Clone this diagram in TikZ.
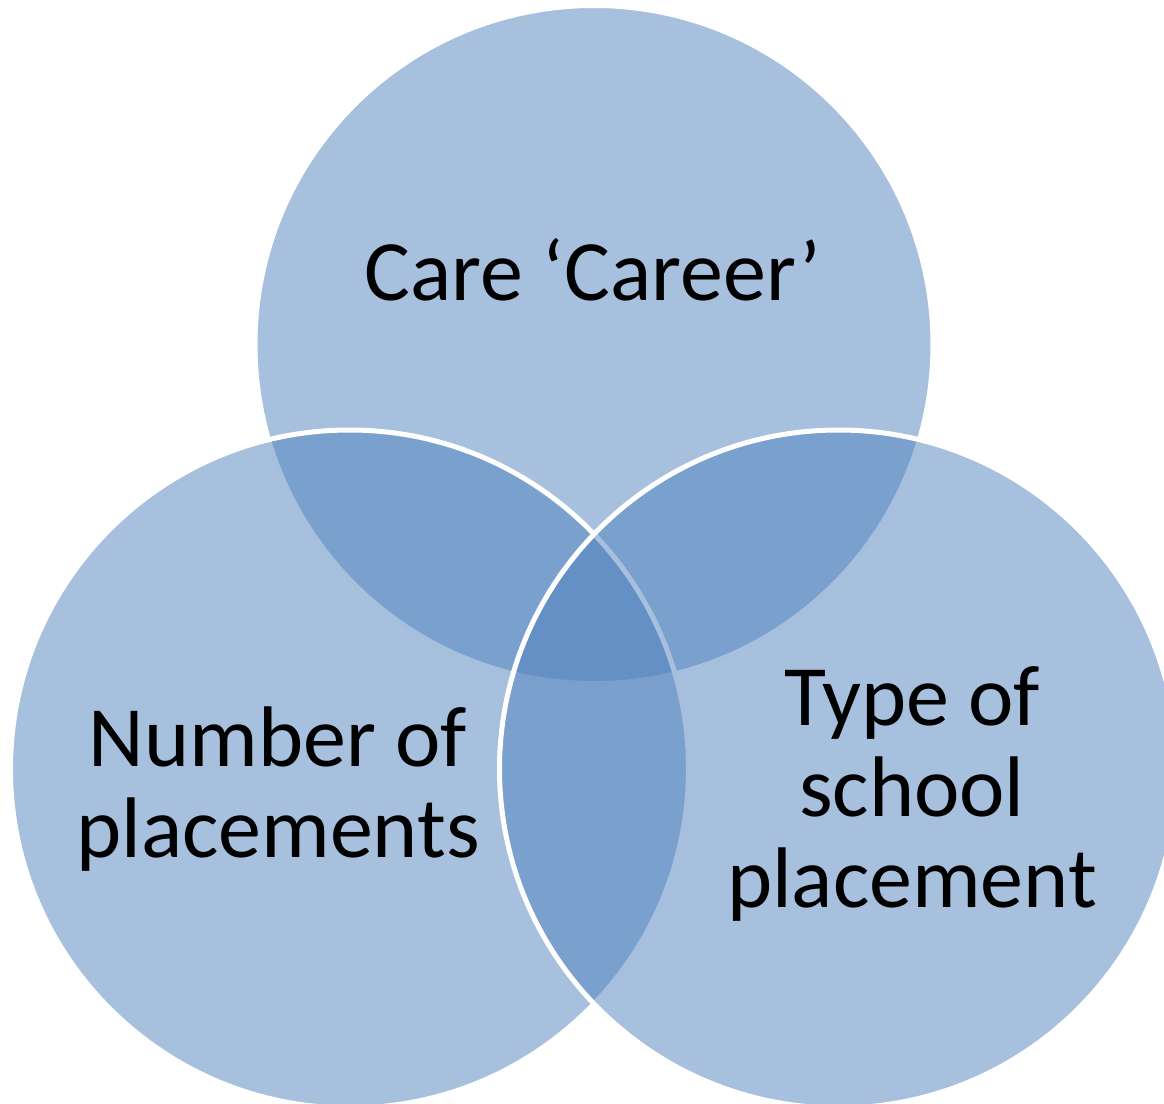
\documentclass[tikz,border=0pt]{standalone}
\usepackage{fontspec}
\setmainfont{Carlito}
\definecolor{vennblue}{HTML}{4F81BD}

\begin{document}
\begin{tikzpicture}[x=0.5pt, y=-0.5pt,
    venn/.style={fill=vennblue, fill opacity=0.5, draw=white, line width=2.5pt},
    venntext/.style={font=\fontsize{43}{45.5}\selectfont, align=center, anchor=base}]
    \useasboundingbox (0,0) rectangle (1164,1104);
    \clip (0,0) rectangle (1164,1104);

    \draw[venn] (594,344.5) circle (169.5pt);
    \draw[venn] (349.5,769) circle (169.5pt);
    \draw[venn] (838.5,769) circle (169.5pt);

    % base anchor sits on the last line
    \node[venntext] (care) at (593,300) {Care ‘Career’};
    \node[venntext] (number) at (278,857) {Number of\\placements};
    \node[venntext] (type) at (912,907) {Type of\\school\\placement};
\end{tikzpicture}
\end{document}
